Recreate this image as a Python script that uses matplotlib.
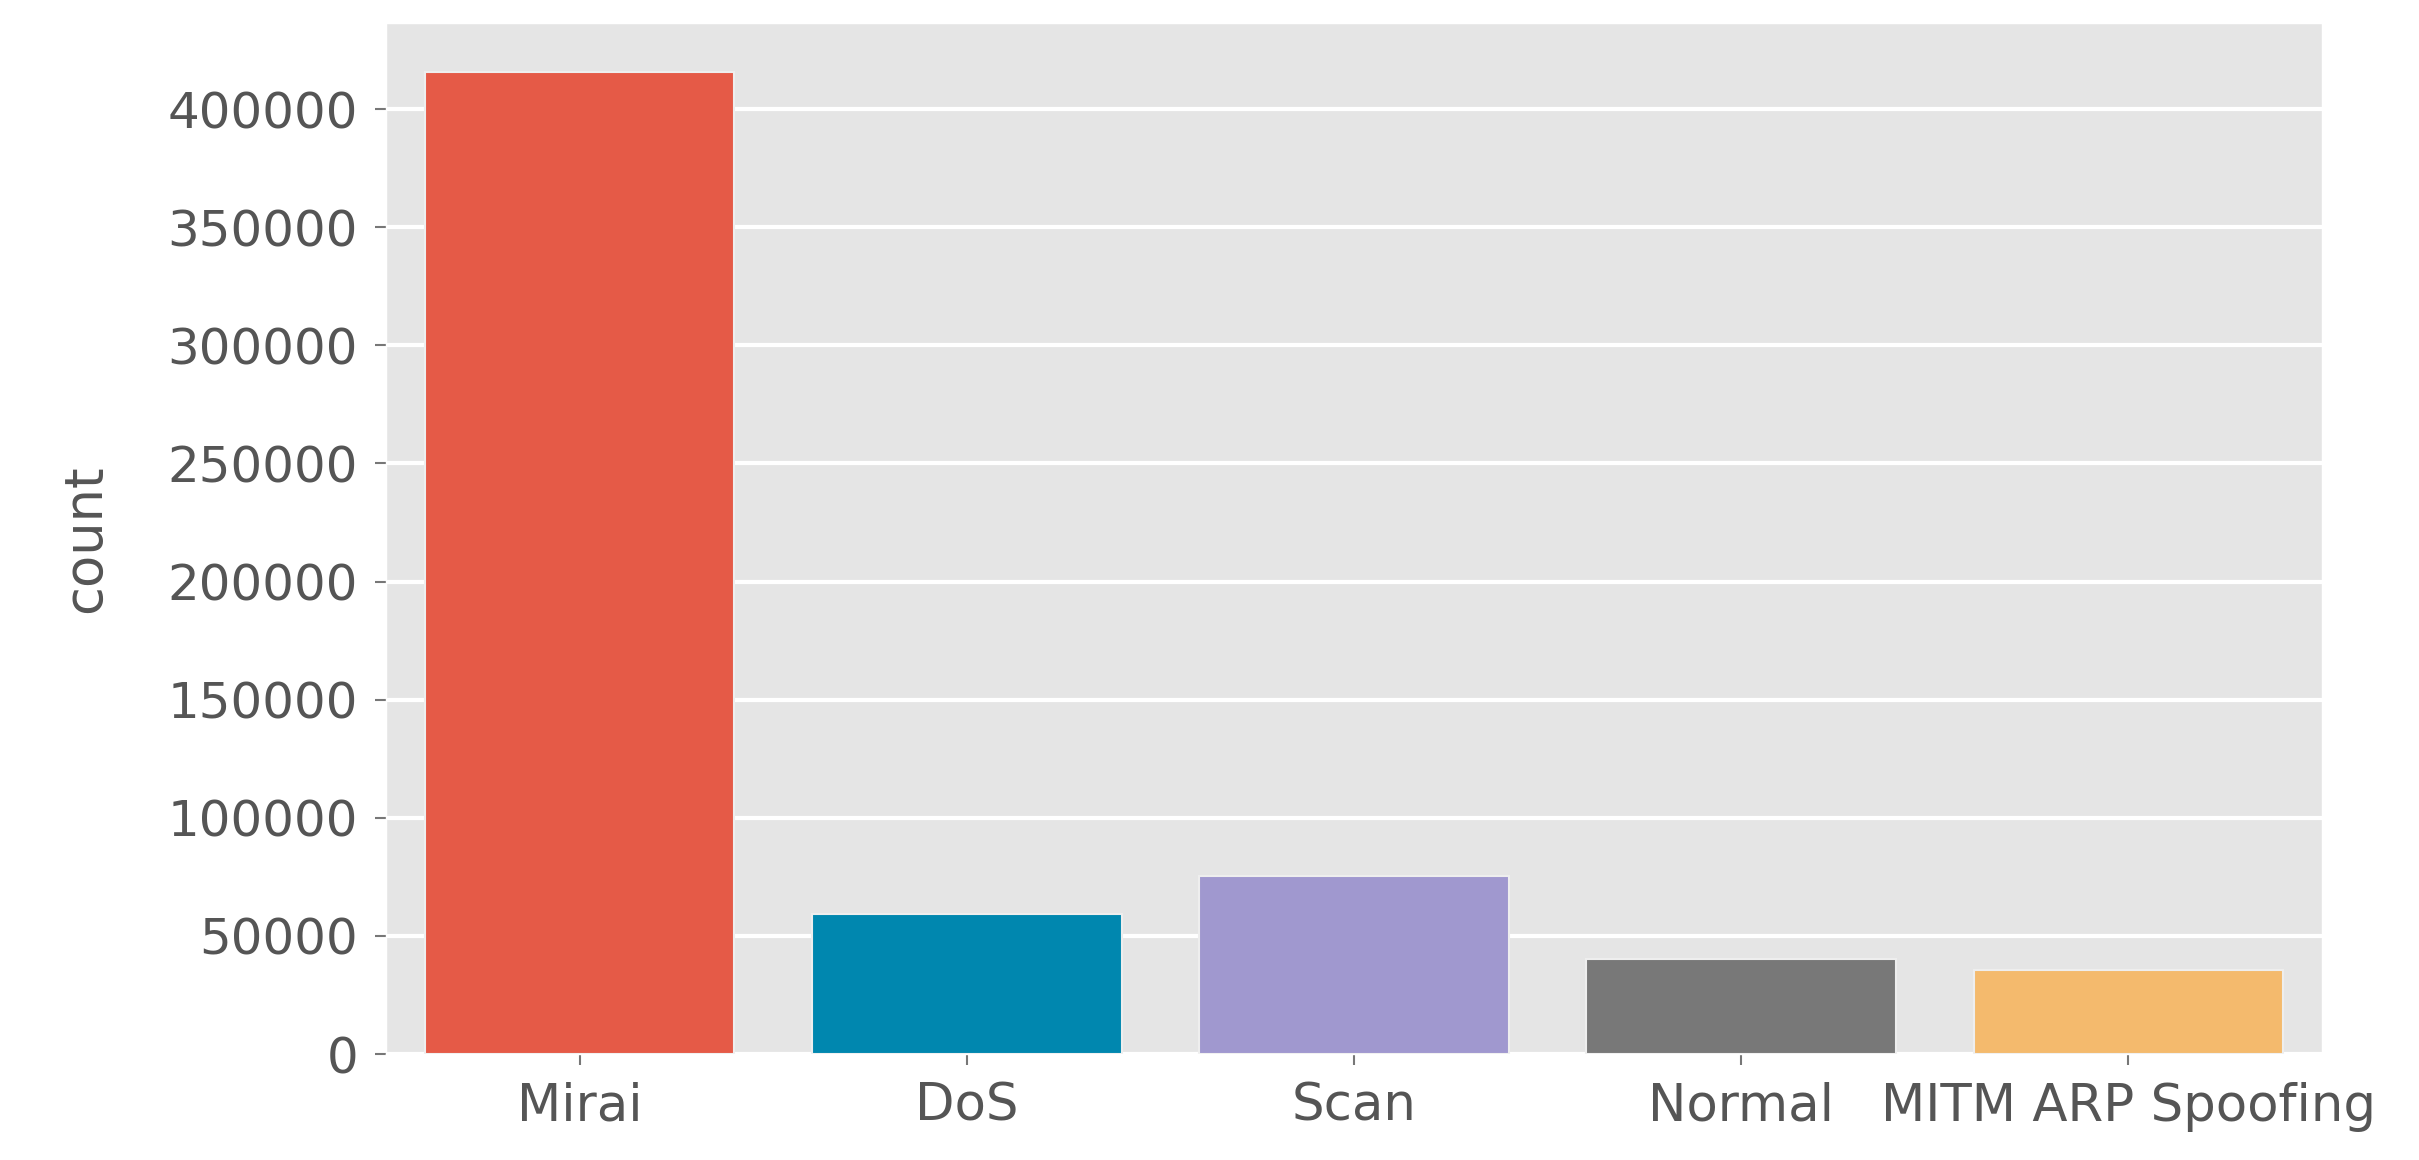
import matplotlib
matplotlib.use("Agg")
import matplotlib.pyplot as plt

plt.style.use("ggplot")

labels = ["Mirai", "DoS", "Scan", "Normal", "MITM ARP Spoofing"]
counts = [415677, 59391, 75265, 40073, 35377]
colors = ["#E55A47", "#0087AF", "#A098CF", "#787878", "#F4BA6D"]

fig = plt.figure(figsize=(24.19, 11.6), dpi=100)
ax = fig.add_axes([386 / 2419, 1 - 1054 / 1160, (2322 - 386) / 2419, (1054 - 23) / 1160])

x = range(len(labels))
ax.bar(x, counts, width=0.8, color=colors, edgecolor="#EEEEEE", linewidth=1.5)
ax.set_xlim(-0.5, len(labels) - 0.5)
ax.set_ylim(0, max(counts) * 1.05)
ax.set_xticks(list(x))
ax.set_xticklabels(labels)
ax.grid(axis="x", visible=False)
ax.grid(axis="y", color="white", linewidth=3)

ax.tick_params(axis="both", labelsize=36, labelcolor="#555555", color="#777777",
               length=8, width=1.5, pad=12)
for lab in ax.get_xticklabels():
    lab.set_fontsize(37)
ax.set_ylabel("count", fontsize=38, color="#555555", labelpad=40)

fig.savefig("out.png", dpi=100)
